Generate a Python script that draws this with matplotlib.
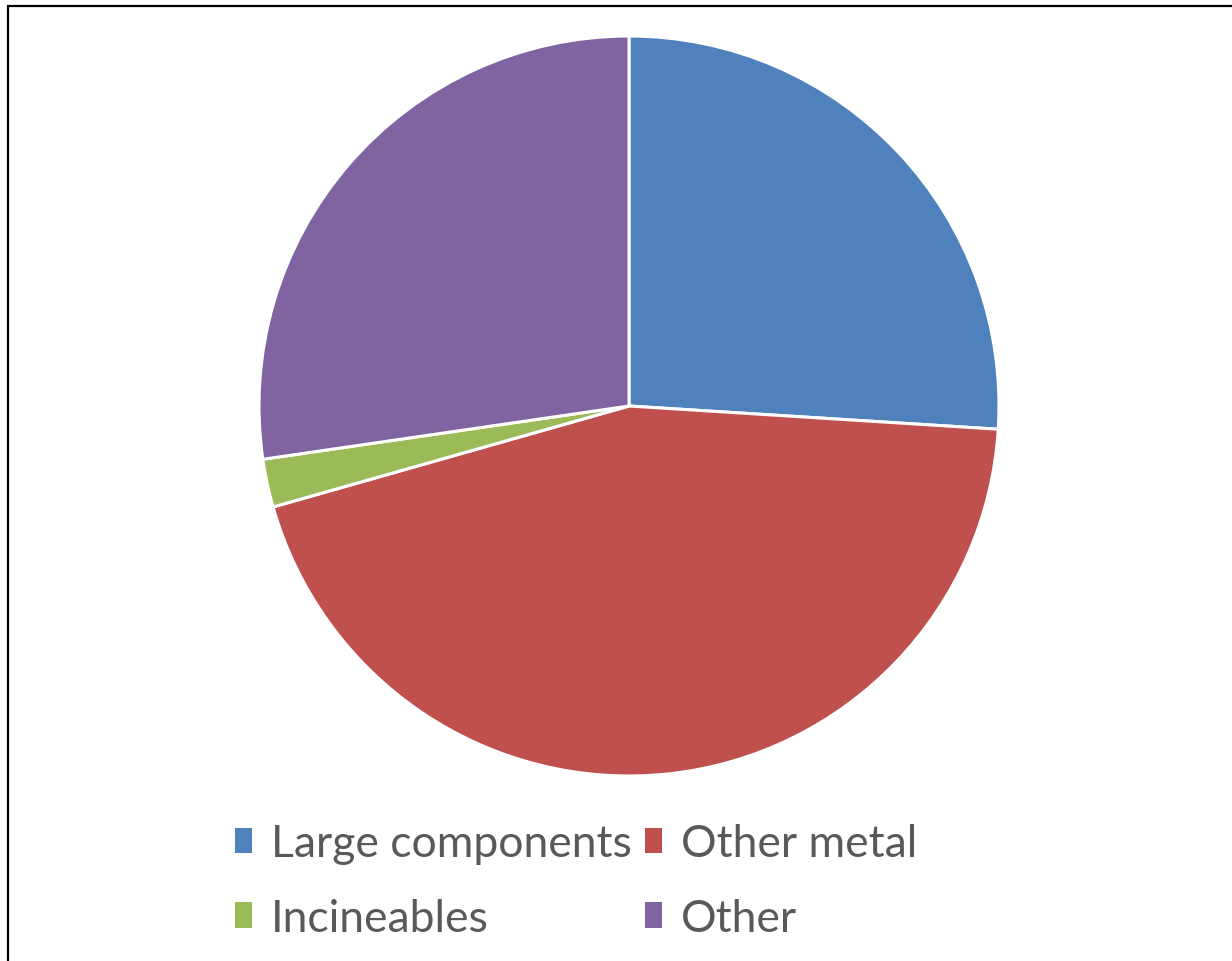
import matplotlib
matplotlib.use("Agg")
import matplotlib.pyplot as plt
from matplotlib.patches import Rectangle, Patch

categories = ["Large components", "Other metal", "Incineables", "Other"]
values = [26.0, 44.6, 2.1, 27.3]
colors = ["#4F81BD", "#C0504D", "#9BBB59", "#8064A2"]

W, H = 1232, 962
fig = plt.figure(figsize=(W / 100, H / 100), dpi=100)

# border frame
fig.patches.append(Rectangle((8 / W, 0 - 0.01), 1.2, (H - 7) / H + 0.01,
                             transform=fig.transFigure, fill=False,
                             edgecolor="black", linewidth=1.6))

cx, cy, r = 629, 407, 370
ax = fig.add_axes([(cx - r) / W, (H - cy - r) / H, 2 * r / W, 2 * r / H])
ax.pie(values, colors=colors, startangle=90, counterclock=False, radius=1,
       wedgeprops=dict(edgecolor="white", linewidth=2.2))
ax.set_xlim(-1, 1)
ax.set_ylim(-1, 1)
ax.set_aspect("equal")
ax.axis("off")

handles = [Patch(facecolor=c, edgecolor="none") for c in colors]
order = [0, 2, 1, 3]
leg = fig.legend([handles[i] for i in order], [categories[i] for i in order],
                 ncol=2, loc="center", bbox_to_anchor=(576 / W, 1 - 882 / H),
                 frameon=False, prop=dict(family="Lato", size=32),
                 labelcolor="#595959", handlelength=0.38, handleheight=0.5,
                 handletextpad=0.42, columnspacing=0.3, labelspacing=0.75,
                 borderpad=0, borderaxespad=0)

fig.savefig("out.png", dpi=100)
